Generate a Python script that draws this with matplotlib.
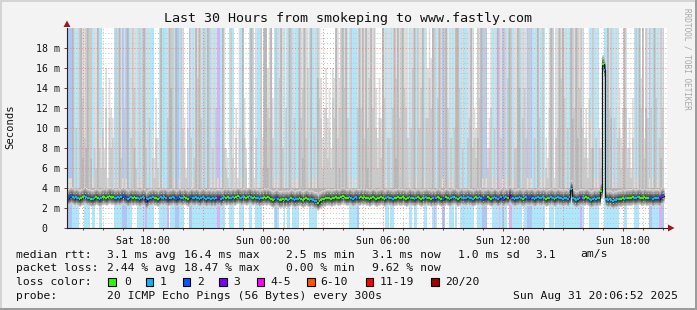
import numpy as np
import matplotlib
matplotlib.use("Agg")
import matplotlib.pyplot as plt
from matplotlib.patches import Rectangle, Polygon

plt.rcParams['font.family'] = ['DejaVu Sans Mono', 'DejaVu Sans']

TITLE = "Last 30 Hours from smokeping to www.fastly.com"
START_HOUR = 14.2          # Sat 14:12, hours since Sat 00:00
STEP_HOURS = 5.0 / 60.0    # one sample every 300 s
N_SLOTS = 360              # 30 hours of slots on the axis

# loss count per sample (pings lost out of 20); '4' stands for the 4-5 class
loss_segments = [
    "222 1111 000 1111 0 11 00 11 0000000 11111 222 111 000 11111 3 1111 000 1111",
    "1 3 0 111 22 111 000 22 111111111111111 33 111 00 111 000 111 000 11 00 1111 00",
    "00000 121 000 1 0 11 0 1111 000000 11111 0000000000000000000 11111 2 0000",
    "000000000000 11 0 11 000000000 11 0 11 0000 11 000 1 3 1 000 22 00 111 0 1 00 111",
    "11111 00 111 222 000 111141 2 11 0 33 111111 0 11 222 11111111 00 111 0 111111",
    "111111111 3 1 000 111111 000 1 11111111 000 11 0000 111 000000 221 111 33 2",
]

# median rtt per sample, tenths of a millisecond
median_tenths = [
    30, 31, 32, 31, 30, 31, 30, 29, 30, 31, 32, 31, 30, 30, 29, 29, 30, 31, 30, 29,
    30, 31, 31, 30, 31, 32, 31, 31, 30, 30, 31, 30, 31, 32, 31, 30, 29, 30, 31, 30,
    31, 30, 30, 29, 30, 31, 30, 27, 29, 30, 30, 31, 30, 30, 29, 30, 31, 30, 31,
    30, 29, 30, 30, 31, 30, 29, 30, 31, 30, 30, 31, 30, 29, 30, 31, 30, 30, 31, 30,
    29, 30, 31, 30, 29, 30, 30, 29, 30, 29, 30, 30, 30, 29, 30, 31, 30, 31, 30, 30,
    31, 30, 31, 32, 31, 30, 31, 31, 30, 31, 32, 31, 30, 31, 30, 30, 29, 30, 30, 31,
    30, 31, 30, 29, 28, 29, 30, 29, 28, 28, 29, 28, 29, 28, 29, 30, 29, 28, 29, 29,
    30, 29, 28, 29, 30, 29, 28, 29, 28, 27, 27, 25, 27, 28, 29, 29, 30, 30, 30, 29,
    30, 30, 31, 30, 30, 31, 32, 31, 30, 30, 31, 30, 29, 30, 31, 30, 30, 31, 30, 31,
    30, 30, 29, 30, 31, 30, 29, 30, 30, 31, 30, 29, 30, 31, 30, 30, 29, 30, 30, 31,
    30, 30, 31, 30, 29, 30, 31, 30, 30, 29, 30, 31, 30, 29, 30, 30, 31, 30, 30, 29,
    30, 29, 30, 31, 30, 29, 29, 30, 31, 30, 29, 30, 31, 31, 30, 29, 30, 31, 30, 30,
    30, 31, 30, 30, 29, 30, 31, 30, 31, 30, 29, 30, 30, 31, 30, 29, 30, 31, 30, 29,
    30, 31, 29, 30, 31, 30, 33, 31, 30, 29, 30, 30, 31, 30, 29, 30, 31, 30, 30, 31,
    30, 29, 30, 31, 30, 30, 31, 30, 29, 30, 30, 31, 30, 29, 30, 31, 30, 30, 29, 30,
    30, 29, 31, 39, 30, 29, 28, 29, 30, 30, 30, 30, 31, 30, 29, 28, 29, 30, 29, 30,
    30, 37, 164, 158, 29, 28, 29, 28, 27, 28, 28, 29, 29, 29, 30, 29, 30, 30, 30, 30,
    31, 30, 30, 31, 31, 30, 30, 31, 30, 30, 30, 30, 29, 30, 30, 30, 29, 31, 32,
]

# highest ping per sample in ms (base-36 digit, 'z' = off the top of the chart)
smoke_max_segments = [
    "555 z 4z4 zzz z zzzz 5z zz c9 e8g5fcb 4z5 zz 5z5 z 4z zzz 5z5 zz z 4z4 a7d 9 5z54",
    "4z zzz 5z 45 zz b6e 4z 5 zzzzz 4z4 zz 5z 5z5 45 zz 87 4z a6c 5z5 zd8 45 zz 5z54 z9z",
    "zgzzd 5z5 zzz 5 z 4z z 5z55 zzzzzz 5z5z5 zz f9cgbe8 gfzzfz zzzz 5z545 z zzzz",
    "zzzzzz e9fb zz 5z z 4z zzzzzzzzz 5z z z5 zzzz 5z gzh z z 4 zzz 5z zz 5z5 z z zz 4z4",
    "4z zzz ca zzz 5z5 8b z 5z5 z4 z 5z5 zzz 5z zzz 4z zz 5z5 4z4 zz 5z5 97 zzz 5z zzzzz",
    "4z4 zzzzzz zz 9c7 zbz 5z5 a8 hh 4z zz5z4z e9c zz 8b6d 5z5 zfz9zz 5z5 zz 5z zz",
]
# second highest ping per sample
smoke_2nd_segments = [
    "444 z 4 a 4 zzd 9 zazz 4 8 6z 86 a6c4b89 4 z 4 z7 4 c 4 z 4 9 ze6 4 z 4 zz 8 4 b 4 759 6 4 z 44",
    "4 b 9zz 4 z 44 za 85a 4 9 4 7zfzb 4 z 4 zz 4 8 4 c 444 z8 65 4 z 749 4 a 4 z 96 44 zz 4 9 44 z6z",
    "z c b z 9 4 z 4 fz8 4 c 4 zz 4 b 44 zbez9g 4 z 4 a 4 zd b68c7a6 dbz9cz zezb 4 z 444 c zcz9",
    "zafzcz a6b7 zd 49 94 c zfzbzzec9 4 agz 4 zaez 4 bbfc zz 4 dz8 4 zzc 4 9 4 a z ze 4 8 4",
    "49bz897zdz 4z4 68c 4a4 z494z4 fzz4 88zz4 be94z44 94zb4z4 65czz4 9azfzd",
    "4a4 zzczzeza795d8z 494 86hg 4 zcz 4 b 4 9a68zc6859 4 z 4 zce7zb 4 c 4 zd 4 9 zc",
]
# third highest ping per sample
smoke_3rd_segments = [
    "444 z 4444 z 7 4 8 z 4 7 444 z 444444444444 z 4444 z 444 8 44444 z 444444444 z 44",
    "44 z e 44 z 44444444444 z 4 z 4444 z 44444444 z 44444444444 z 4444 z 4444444 z",
    "z 6 4 z 44444 z 4444 z 44444 z 4 7 z 444 z 444 f 4444444444 z 4 6 4 z 4 z 4444444 z 4 z 4",
    "z 6 4 z 444444 z 444444 z 7 z 44 z 444444 z 4444 z 44444 z 444 z 444 z 44444 zz 4444",
    "444 z 444 9 4 z 444444444 z 444444 z 4444 z e 4444444444 z 4444444 z 4444 z 4 z 4",
    "444 z b 4 z 9 4 c 444444 8 44444 gf 4 z 4 b 4444444 z 44444444 z 4 z 4 c 4444 z 444 7 4",
]

x_major = [18, 24, 30, 36, 42]
x_labels = ["Sat 18:00", "Sun 00:00", "Sun 06:00", "Sun 12:00", "Sun 18:00"]
y_major = [0, 2, 4, 6, 8, 10, 12, 14, 16, 18]
y_labels = ["0  ", "2 m", "4 m", "6 m", "8 m", "10 m", "12 m", "14 m", "16 m", "18 m"]

loss_classes = ["0", "1", "2", "3", "4-5", "6-10", "11-19", "20/20"]
loss_line_colors = ["#26ff00", "#00b8ff", "#0059ff", "#7e00ff", "#ff00ff",
                    "#ff5500", "#ff0000", "#a10000"]
loss_band_colors = {1: "#aee6fb", 2: "#acc6f8", 3: "#d4b2f8", 4: "#f8b0f8"}

row_median = ["median rtt:", "3.1 ms avg", "16.4 ms max", "2.5 ms min",
              "3.1 ms now", "1.0 ms sd", "3.1", "am/s"]
row_loss = ["packet loss:", "2.44 % avg", "18.47 % max", "0.00 % min", "9.62 % now"]
row_probe = ["probe:", "20 ICMP Echo Pings (56 Bytes) every 300s",
             "Sun Aug 31 20:06:52 2025"]


# ---------------------------------------------------------------- decode
def join(segs):
    return "".join(s.replace(" ", "") for s in segs)


loss = np.array([int(c) for c in join(loss_segments)])
med = np.array(median_tenths, float) / 10.0
p20 = np.array([int(c, 36) for c in join(smoke_max_segments)], float)
p19 = np.array([int(c, 36) for c in join(smoke_2nd_segments)], float)
p18 = np.array([int(c, 36) for c in join(smoke_3rd_segments)], float)
lens = [len(loss), len(med), len(p20), len(p19), len(p18)]
if len(set(lens)) != 1:
    raise SystemExit("length mismatch %s" % lens)
n = lens[0]

t_edges = START_HOUR + np.arange(n + 1) * STEP_HOURS


def ext(a):
    return np.append(a, a[-1])


W, H = 697, 310
fig = plt.figure(figsize=(W / 100, H / 100), dpi=100, facecolor="#f3f3f3")
L, R, T, B = 67, 667, 28, 228
ax = fig.add_axes([L / W, (H - B) / H, (R - L) / W, (B - T) / H])
ax.set_facecolor("white")
x_end = START_HOUR + N_SLOTS * STEP_HOURS
ax.set_xlim(START_HOUR, x_end)
ax.set_ylim(0, 20)

# loss background bands
i = 0
while i < n:
    j = i
    while j < n and loss[j] == loss[i]:
        j += 1
    c = loss_band_colors.get(int(loss[i]))
    if c:
        ax.add_patch(Rectangle((t_edges[i], 0), t_edges[j] - t_edges[i], 20,
                               facecolor=c, edgecolor="none", lw=0, zorder=1))
    i = j

# smoke: outliers
for vals, col, z in [(p20, "#dddddd", 2), (p19, "#cacaca", 3), (p18, "#b7b7b7", 4)]:
    top = np.maximum(vals, med)
    ax.fill_between(t_edges, ext(med), ext(top), step="post", color=col, lw=0, zorder=z)

# smoke core around the median (shading band widths in ms)
shades = [221, 202, 183, 164, 145, 126, 107, 88, 69, 50]
below = [0.75, 0.7, 0.64, 0.57, 0.5, 0.43, 0.35, 0.27, 0.19, 0.1]
above = [0.95, 0.88, 0.8, 0.71, 0.62, 0.52, 0.42, 0.32, 0.22, 0.12]
for k, (s, lo, hi) in enumerate(zip(shades, below, above)):
    col = "#%02x%02x%02x" % (s, s, s)
    ax.fill_between(t_edges, ext(med) - lo, ext(med) + hi, step="post",
                    color=col, lw=0, zorder=5 + k)

# grid (drawn over the smoke, as rrdtool does)
dots = (0, (1, 2))
for hh in np.arange(15, x_end, 1.0):
    major = abs((hh - 15) % 3) < 1e-6
    ax.axvline(hh, color="#e38a8a" if major else "#c4c4c4", ls=dots,
               lw=0.7, zorder=20)
for yy in np.arange(0.5, 19.99, 0.5):
    major = abs(yy % 2) < 1e-6
    ax.axhline(yy, color="#e38a8a" if major else "#c4c4c4", ls=dots,
               lw=0.7, zorder=20)

# median line
ax.step(t_edges, ext(med), where="post", color="#1a1a1a", lw=0.9, zorder=21)
seg_colors = [loss_line_colors[min(int(c), 4)] for c in loss]
ax.hlines(med, t_edges[:-1], t_edges[1:], colors=seg_colors, lw=1.6, zorder=22)

# axes, ticks
for s in ["top", "right"]:
    ax.spines[s].set_visible(False)
for s in ["left", "bottom"]:
    ax.spines[s].set_color("#222222")
    ax.spines[s].set_linewidth(0.8)
    ax.spines[s].set_zorder(30)
ax.set_xticks(x_major)
ax.set_xticklabels(x_labels)
ax.set_xticks(np.arange(15, x_end, 1.0), minor=True)
ax.set_yticks(y_major)
ax.set_yticklabels(y_labels)
ax.tick_params(axis="both", which="major", length=2.5, width=0.7, color="#8a3030",
               labelsize=7.1, pad=2.5, labelcolor="#111111")
ax.tick_params(axis="x", which="minor", length=1.5, width=0.7, color="#8a3030")
ax.tick_params(axis="x", pad=3)


def px(x, y):
    return (x / W, 1 - y / H)


# arrows
fig.add_artist(Polygon([px(63.5, 27), px(70.5, 27), px(67, 20.5)], closed=True,
                       transform=fig.transFigure, facecolor="#9b1c1c",
                       edgecolor="none", zorder=40))
fig.add_artist(Polygon([px(668, 224.5), px(668, 231.5), px(674.5, 228)], closed=True,
                       transform=fig.transFigure, facecolor="#9b1c1c",
                       edgecolor="none", zorder=40))

# titles / labels
fig.text(348 / W, 1 - 18.5 / H, TITLE, ha="center", va="center", fontsize=9.6,
         color="#111111")
fig.text(10 / W, 1 - 127 / H, "Seconds", rotation=90, ha="center", va="center",
         fontsize=7.6, color="#111111")
fig.text(687 / W, 1 - 59 / H, "RRDTOOL / TOBI OETIKER", rotation=270, ha="center",
         va="center", fontsize=5.6, color="#a8a8a8")

# legend rows
fs = 8.2
y1, y2, y3, y4 = 254.5, 268.3, 282.3, 296
for txt, x in zip(row_median, [16, 107, 184, 286, 372, 458, 535, 580]):
    fig.text(x / W, 1 - y1 / H, txt, ha="left", va="center", fontsize=fs, color="#111111")
for txt, x in zip(row_loss, [16, 107, 184, 286, 372]):
    fig.text(x / W, 1 - y2 / H, txt, ha="left", va="center", fontsize=fs, color="#111111")
fig.text(16 / W, 1 - y3 / H, "loss color:", ha="left", va="center", fontsize=fs,
         color="#111111")
box_x = [108.3, 145.7, 182.7, 219, 256.7, 307, 365.7, 431]
lab_x = [124, 160, 197, 233.5, 270.5, 320, 380, 445]
for lab, col, bx, lx in zip(loss_classes, loss_line_colors, box_x, lab_x):
    fig.add_artist(Rectangle(px(bx, 286.3), 7.6 / W, 8.2 / H, transform=fig.transFigure,
                             facecolor=col, edgecolor="black", lw=0.8, zorder=40))
    fig.text(lx / W, 1 - y3 / H, lab, ha="left", va="center", fontsize=fs, color="#111111")
for txt, x in zip(row_probe, [16, 107, 513]):
    fig.text(x / W, 1 - y4 / H, txt, ha="left", va="center", fontsize=fs, color="#111111")

# 3D frame
fig.add_artist(Rectangle((0, 0), 2 / W, 1, transform=fig.transFigure,
                         facecolor="#d4d4d4", edgecolor="none", zorder=50))
fig.add_artist(Rectangle((0, 1 - 2 / H), 1, 2 / H, transform=fig.transFigure,
                         facecolor="#d4d4d4", edgecolor="none", zorder=50))
fig.add_artist(Rectangle((1 - 2 / W, 0), 2 / W, 1, transform=fig.transFigure,
                         facecolor="#9c9c9c", edgecolor="none", zorder=51))
fig.add_artist(Rectangle((0, 0), 1, 2 / H, transform=fig.transFigure,
                         facecolor="#9c9c9c", edgecolor="none", zorder=51))

fig.savefig("out.png", dpi=100, facecolor=fig.get_facecolor())
